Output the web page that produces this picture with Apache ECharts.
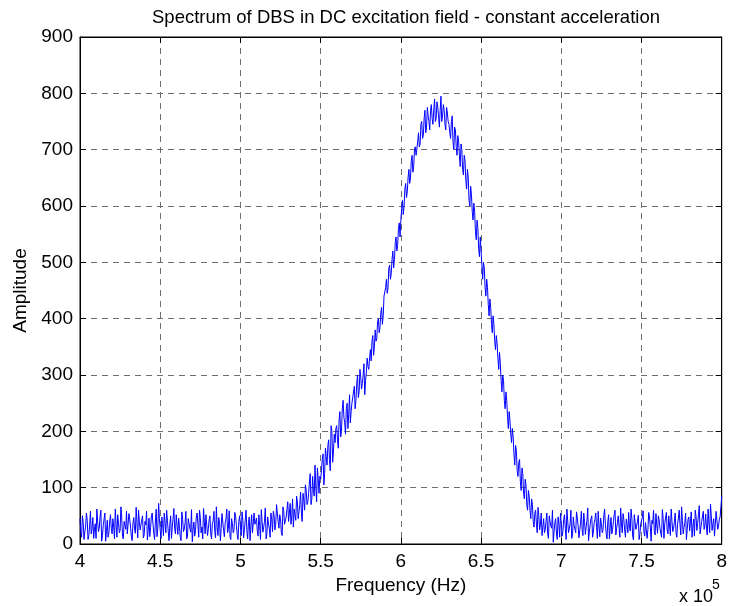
<!DOCTYPE html>
<html>
<head>
<meta charset="utf-8">
<script src="https://cdn.jsdelivr.net/npm/echarts@6/dist/echarts.min.js"></script>
<style>
html,body{margin:0;padding:0;background:#fff;}
#chart{width:730px;height:606px;}
</style>
</head>
<body>
<div id="chart"></div>
<script>
// Frequency axis (x 10^5 Hz): samples every 0.005 from 4.000 to 8.000
var freqStart = 4.00;
var freqStep = 0.01;      // step of the "amplitude" list
var xTicks = [4, 4.5, 5, 5.5, 6, 6.5, 7, 7.5, 8];
var yTicks = [0, 100, 200, 300, 400, 500, 600, 700, 800, 900];

// Amplitude values at 4.00, 4.01, ... 8.00
var amplitude = [
  45,12,38,22,55,8,33,18,47,25,
  10,40,28,60,15,35,5,42,20,52,
  18,30,62,12,37,24,48,9,33,58,
  20,44,14,36,27,65,11,39,23,50,
  16,34,7,46,29,55,19,41,13,72,
  25,48,15,38,60,22,35,10,44,28,
  52,17,31,6,43,26,58,14,36,21,
  4,39,24,55,12,47,30,63,18,34,
  27,50,9,41,22,66,15,37,28,53,
  13,45,20,59,8,36,25,49,17,40,
  30,57,11,43,24,38,6,52,19,35,
  46,14,33,61,21,40,9,48,27,55,
  22,50,35,68,28,45,15,58,38,62,
  40,72,50,30,65,85,45,70,55,90,
  60,95,75,110,70,120,85,100,135,90,
  115,150,105,170,140,185,130,200,165,180,
  210,170,235,200,255,215,240,205,265,235,
  250,280,255,300,270,295,285,320,290,330,
  310,345,360,335,380,365,400,385,420,405,
  440,470,455,495,480,520,505,545,530,570,
  575,610,600,640,625,665,650,690,670,705,
  690,730,710,750,725,770,740,760,735,780,
  745,790,755,775,740,795,760,770,735,765,
  745,720,760,700,735,690,715,670,700,655,
  680,630,650,600,620,575,590,540,560,510,
  520,470,490,440,455,405,420,375,390,345,
  355,310,320,270,290,240,255,205,220,180,
  190,140,165,120,150,95,125,80,105,60,
  85,45,70,30,60,20,50,35,15,45,
  25,55,10,40,28,3,38,18,48,12,
  35,22,52,8,41,27,60,15,33,20,
  46,11,37,25,55,17,42,6,34,50,
  21,44,29,58,13,36,24,62,18,40,
  9,47,26,53,16,38,30,64,20,43,
  12,35,56,23,45,7,39,28,51,17,
  33,59,14,41,26,48,5,36,22,54,
  19,43,31,61,10,37,25,50,15,40,
  28,55,12,46,34,66,18,38,8,44,
  23,57,30,14,49,36,68,20,42,26,
  53,16,39,71,24,45,11,60,32,48,
  85
];

// Amplitude values at 4.005, 4.015, ... 7.995
var amplitudeMid = [
  20,50,8,30,42,15,58,27,10,36,
  62,22,48,5,33,55,24,12,39,28,
  45,9,35,52,20,66,14,40,26,18,
  54,30,6,47,19,38,60,25,43,11,
  40,58,24,13,50,35,8,62,28,45,
  10,36,55,20,42,6,50,30,63,18,
  33,46,12,57,22,38,9,45,28,61,
  26,14,48,35,60,20,9,40,52,15,
  43,18,36,58,11,30,47,6,54,24,
  38,62,28,12,45,20,56,33,8,50,
  15,42,26,60,9,48,32,20,55,40,
  24,52,8,40,30,64,18,36,12,44,
  58,25,70,40,52,20,66,35,48,75,
  55,35,80,62,42,75,58,92,40,78,
  105,70,90,125,80,95,140,75,115,120,
  130,160,125,155,175,150,210,145,195,205,
  185,220,190,240,225,195,250,230,215,250,
  270,240,285,260,310,275,300,265,305,315,
  330,325,370,350,360,395,375,410,390,440,
  455,445,490,470,505,490,535,520,560,545,
  595,585,630,615,650,640,680,660,700,690,
  715,705,745,720,755,730,775,750,770,755,
  770,750,785,760,770,750,780,745,775,750,
  730,750,715,740,705,725,690,710,665,690,
  645,665,610,635,590,605,555,575,525,545,
  495,500,455,470,425,435,390,405,360,370,
  330,340,290,300,255,270,225,235,195,205,
  160,175,130,145,110,135,90,115,70,95,
  60,80,40,55,35,65,25,55,30,20,
  40,18,50,32,60,22,45,8,35,55,
  14,44,28,62,20,36,10,48,26,57,
  32,24,58,15,40,30,64,22,45,12,
  38,55,10,32,46,20,50,35,9,52,
  30,18,40,60,28,50,12,36,54,25,
  44,20,30,62,14,52,26,40,8,36,
  47,21,38,10,56,30,42,60,16,34,
  50,28,12,45,36,56,18,32,62,22,
  40,20,36,60,16,42,30,55,26,48,
  38,12,44,60,24,52,18,40,58,32,
  28,62,20,50,36,14,58,26,44,66
];

var seriesData = [];
for (var i = 0; i < amplitude.length; i++) {
  seriesData.push([+(freqStart + i * freqStep).toFixed(3), amplitude[i]]);
  if (i < amplitudeMid.length) {
    seriesData.push([+(freqStart + i * freqStep + freqStep / 2).toFixed(3), amplitudeMid[i]]);
  }
}

var font = '"Liberation Sans", Arial, sans-serif';
var chart = echarts.init(document.getElementById('chart'), null, {renderer: 'canvas'});

var gridLine = {show: true, lineStyle: {color: '#6e6e6e', type: [6, 5], width: 1}};

chart.setOption({
  animation: false,
  backgroundColor: '#ffffff',
  title: {
    text: 'Spectrum of DBS in DC excitation field - constant acceleration',
    left: 401, top: 3, textAlign: 'center',
    textStyle: {fontFamily: font, fontSize: 18.5, fontWeight: 'normal', color: '#000'}
  },
  grid: {left: 80, right: 8, top: 37, bottom: 62, containLabel: false,
         show: true, borderColor: '#000', borderWidth: 1, backgroundColor: '#fff'},
  xAxis: [{
    type: 'value', min: xTicks[0], max: xTicks[xTicks.length - 1], interval: 0.5,
    name: 'Frequency (Hz)', nameLocation: 'middle', nameGap: 31,
    nameTextStyle: {fontFamily: font, fontSize: 19, color: '#000'},
    axisLine: {show: true, onZero: false, lineStyle: {color: '#000', width: 1}},
    axisTick: {show: true, inside: true, length: 6, lineStyle: {color: '#000'}},
    axisLabel: {fontFamily: font, fontSize: 19, color: '#000', margin: 8},
    splitLine: gridLine
  }, {
    type: 'value', position: 'top', min: xTicks[0], max: xTicks[xTicks.length - 1], interval: 0.5,
    axisLine: {show: true, onZero: false, lineStyle: {color: '#000'}},
    axisTick: {show: true, inside: true, length: 6, lineStyle: {color: '#000'}},
    axisLabel: {show: false}, splitLine: {show: false}
  }],
  yAxis: [{
    type: 'value', min: yTicks[0], max: yTicks[yTicks.length - 1], interval: 100,
    name: 'Amplitude', nameLocation: 'middle', nameGap: 49, nameRotate: 90,
    nameTextStyle: {fontFamily: font, fontSize: 19, color: '#000'},
    axisLine: {show: true, onZero: false, lineStyle: {color: '#000', width: 1}},
    axisTick: {show: true, inside: true, length: 6, lineStyle: {color: '#000'}},
    axisLabel: {fontFamily: font, fontSize: 19, color: '#000', margin: 7},
    splitLine: gridLine
  }, {
    type: 'value', position: 'right', min: yTicks[0], max: yTicks[yTicks.length - 1], interval: 100,
    axisLine: {show: true, onZero: false, lineStyle: {color: '#000'}},
    axisTick: {show: true, inside: true, length: 6, lineStyle: {color: '#000'}},
    axisLabel: {show: false}, splitLine: {show: false}
  }],
  graphic: [{
    type: 'text', x: 679, y: 597,
    style: {text: 'x 10', font: '18px "Liberation Sans", Arial, sans-serif', fill: '#000', verticalAlign: 'middle', align: 'left'}
  }, {
    type: 'text', x: 712, y: 585,
    style: {text: '5', font: '14px "Liberation Sans", Arial, sans-serif', fill: '#000', verticalAlign: 'middle', align: 'left'}
  }],
  series: [{
    type: 'line', data: seriesData, showSymbol: false, symbol: 'none',
    lineStyle: {color: '#0000ff', width: 1}, sampling: null, clip: true,
    xAxisIndex: 0, yAxisIndex: 0
  }]
});
</script>
</body>
</html>
